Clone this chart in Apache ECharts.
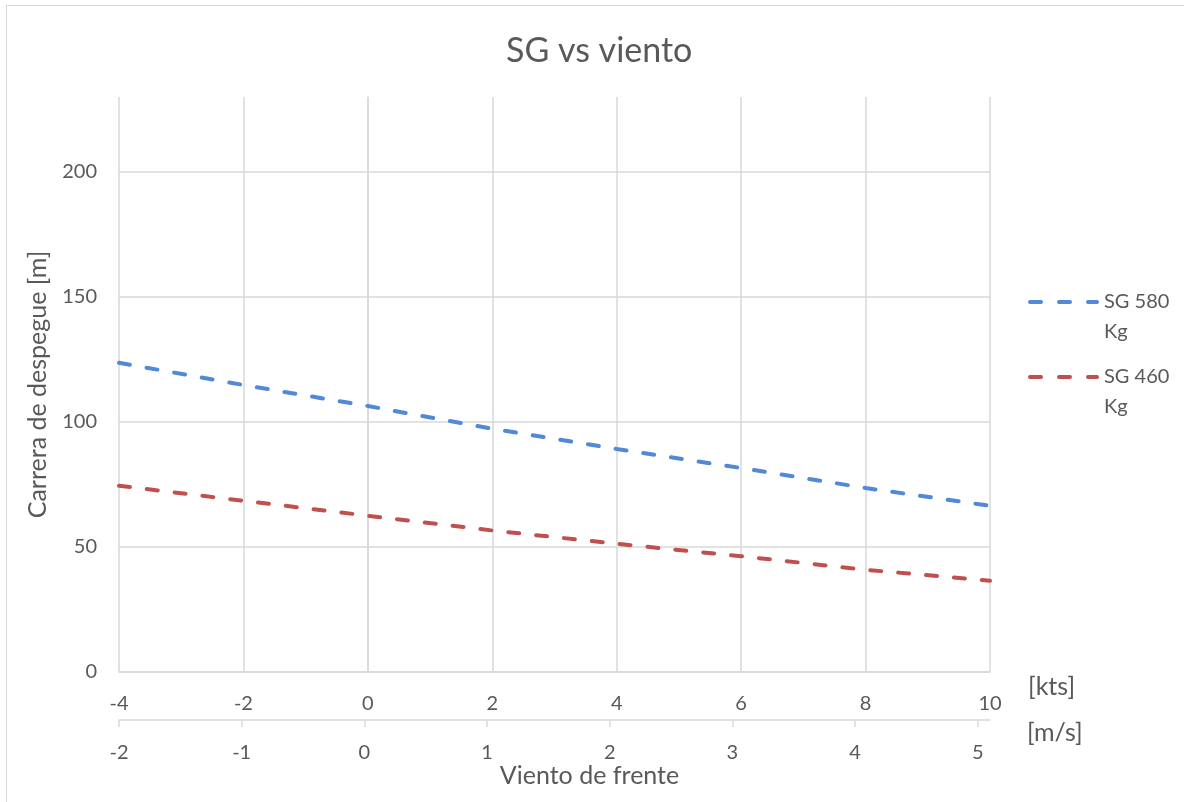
<!DOCTYPE html>
<html>
<head>
<meta charset="utf-8">
<title>SG vs viento</title>
<script src="https://cdn.jsdelivr.net/npm/echarts@6/dist/echarts.min.js"></script>
<style>
  html, body { margin: 0; padding: 0; background: #ffffff; }
  #chart { width: 1184px; height: 802px; }
</style>
</head>
<body>
<div id="chart"></div>
<script>
// Wind speed (head wind) in knots, one point every 2 kts
const windKts = [-4, -2, 0, 2, 4, 6, 8, 10];
// Take-off ground roll [m] for each weight
const sg580 = [123.7, 114.8, 106.4, 97.3, 89.2, 81.6, 73.6, 66.5];
const sg460 = [74.5, 68.5, 62.5, 56.6, 51.3, 46.3, 40.9, 36.5];
// Secondary scale in m/s
const windMsTicks = [-2, -1, 0, 1, 2, 3, 4, 5];
const seriesNames = ['SG 580 Kg', 'SG 460 Kg'];

const TEXT = '#595959';
const GRID = '#d9d9d9';
const FONT = 'Lato, "Open Sans", sans-serif';
// Three rounded dashes used as the legend key
const DASH_ICON = 'path://M2,0H13A2,2,0,0,1,13,4H2A2,2,0,0,1,2,0Z' +
  'M31,0H42A2,2,0,0,1,42,4H31A2,2,0,0,1,31,0Z' +
  'M60,0H69A2,2,0,0,1,69,4H60A2,2,0,0,1,60,0Z';

const toPairs = (xs, ys) => xs.map((x, i) => [x, ys[i]]);

const chart = echarts.init(document.getElementById('chart'), null, { renderer: 'canvas' });

chart.setOption({
  backgroundColor: '#ffffff',
  animation: false,
  textStyle: { fontFamily: FONT, color: TEXT },
  title: {
    text: 'SG vs viento',
    left: 501,
    top: 29,
    textStyle: { fontFamily: FONT, fontSize: 34, fontWeight: 'normal', color: TEXT }
  },
  graphic: [
    { type: 'line', shape: { x1: 6, y1: 5.5, x2: 1184, y2: 5.5 }, style: { stroke: GRID, lineWidth: 1 }, silent: true },
    { type: 'line', shape: { x1: 6.5, y1: 5, x2: 6.5, y2: 802 }, style: { stroke: GRID, lineWidth: 1 }, silent: true }
  ],
  legend: {
    orient: 'vertical',
    left: 1023,
    top: 252,
    icon: DASH_ICON,
    itemWidth: 71,
    itemHeight: 4,
    itemGap: -15,
    data: seriesNames,
    formatter: name => '\n' + name.replace(' Kg', '\nKg'),
    textStyle: { fontFamily: FONT, fontSize: 20, color: TEXT, lineHeight: 30 }
  },
  grid: { left: 119, right: 194, top: 97, bottom: 130, containLabel: false },
  xAxis: [
    {
      type: 'value',
      min: -4, max: 10, interval: 2,
      position: 'bottom',
      name: '[kts]',
      nameLocation: 'end',
      nameGap: 38,
      nameTextStyle: { fontFamily: FONT, fontSize: 25, color: TEXT, align: 'left', verticalAlign: 'top', padding: [2, 0, 0, 0] },
      axisLine: { show: true, onZero: false, lineStyle: { color: GRID, width: 1.5 } },
      axisTick: { show: false },
      axisLabel: { fontFamily: FONT, fontSize: 20, color: TEXT, margin: 22 },
      splitLine: { show: true, lineStyle: { color: GRID, width: 1.5 } }
    },
    {
      type: 'value',
      min: -2, max: 5.1,
      position: 'bottom',
      offset: 48,
      name: '[m/s]',
      nameLocation: 'end',
      nameGap: 37,
      nameTextStyle: { fontFamily: FONT, fontSize: 25, color: TEXT, align: 'left', verticalAlign: 'top', padding: [0, 0, 0, 0] },
      axisLine: { show: true, onZero: false, lineStyle: { color: GRID, width: 1.5 } },
      axisTick: { show: true, length: 7, customValues: windMsTicks, lineStyle: { color: GRID, width: 1.5 } },
      axisLabel: { fontFamily: FONT, fontSize: 20, color: TEXT, margin: 23, customValues: windMsTicks },
      splitLine: { show: false }
    },
    {
      // Axis title shown under both wind scales
      type: 'value',
      min: -4, max: 10,
      position: 'bottom',
      offset: 48,
      name: 'Viento de frente',
      nameLocation: 'middle',
      nameGap: 43,
      nameTextStyle: { fontFamily: FONT, fontSize: 25, color: TEXT, padding: [0, 0, 0, 70] },
      axisLine: { show: false },
      axisTick: { show: false },
      axisLabel: { show: false },
      splitLine: { show: false }
    }
  ],
  yAxis: {
    type: 'value',
    min: 0, max: 230, interval: 50,
    name: 'Carrera de despegue [m]',
    nameLocation: 'middle',
    nameGap: 69,
    nameTextStyle: { fontFamily: FONT, fontSize: 25, color: TEXT },
    axisLine: { show: true, lineStyle: { color: GRID, width: 1.5 } },
    axisTick: { show: false },
    axisLabel: {
      fontFamily: FONT, fontSize: 20, color: TEXT, margin: 22,
      formatter: v => (v % 50 === 0 ? String(v) : '')
    },
    splitLine: {
      show: true,
      lineStyle: { color: [GRID, GRID, GRID, GRID, GRID, 'rgba(0,0,0,0)'], width: 1.5 }
    }
  },
  series: [
    {
      name: seriesNames[0],
      type: 'line',
      xAxisIndex: 0,
      data: toPairs(windKts, sg580),
      showSymbol: false,
      symbol: 'none',
      color: '#5089d6',
      lineStyle: { color: '#5089d6', width: 4, type: [11, 17], cap: 'round' }
    },
    {
      name: seriesNames[1],
      type: 'line',
      xAxisIndex: 0,
      data: toPairs(windKts, sg460),
      showSymbol: false,
      symbol: 'none',
      color: '#c0504d',
      lineStyle: { color: '#c0504d', width: 4, type: [11, 17], cap: 'round' }
    }
  ]
});
</script>
</body>
</html>
